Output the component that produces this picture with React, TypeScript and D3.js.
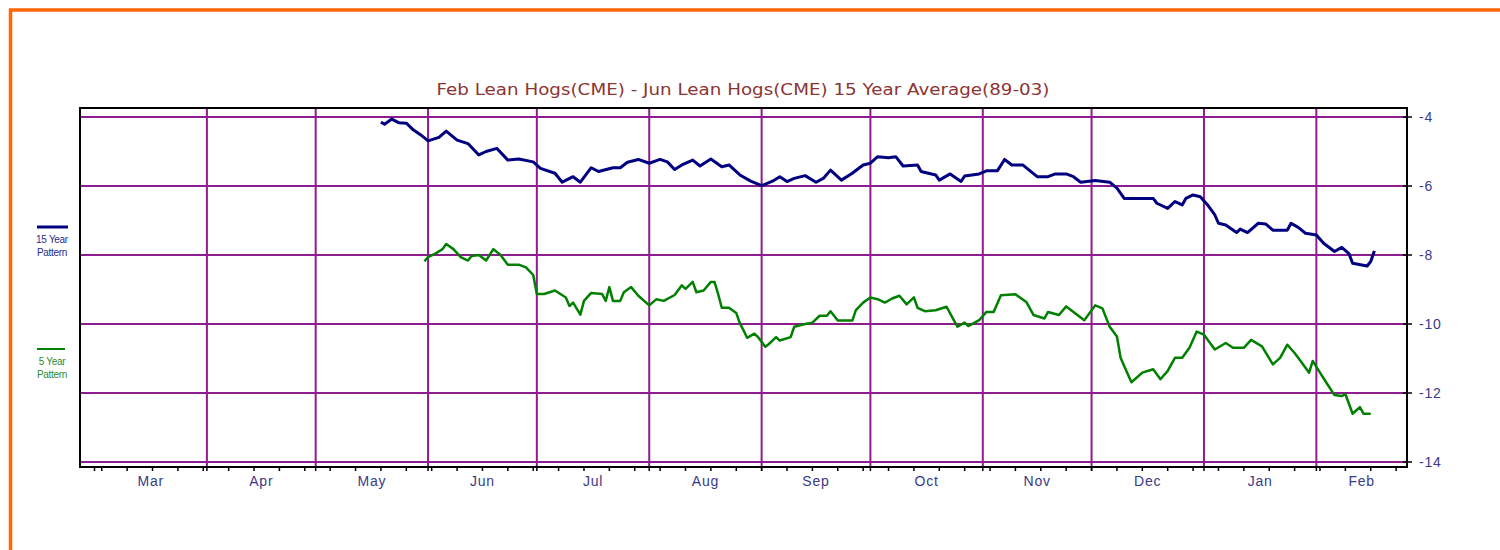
import React, { useRef, useEffect } from 'react';
import * as d3 from 'd3';

const title = 'Feb Lean Hogs(CME) - Jun Lean Hogs(CME) 15 Year Average(89-03)';

const monthLabels = ['Mar', 'Apr', 'May', 'Jun', 'Jul', 'Aug', 'Sep', 'Oct', 'Nov', 'Dec', 'Jan', 'Feb'];
const yTicks = [-4, -6, -8, -10, -12, -14];

// 15 year pattern (navy)
const pattern15: [string, number][] = [
  ['2003-05-19', -4.15], ['2003-05-20', -4.21], ['2003-05-22', -4.06], ['2003-05-24', -4.17],
  ['2003-05-26', -4.18], ['2003-05-28', -4.38], ['2003-05-30', -4.52], ['2003-06-01', -4.69],
  ['2003-06-04', -4.59], ['2003-06-06', -4.41], ['2003-06-09', -4.67], ['2003-06-12', -4.77],
  ['2003-06-15', -5.10], ['2003-06-17', -5.0], ['2003-06-20', -4.91], ['2003-06-23', -5.25],
  ['2003-06-26', -5.22], ['2003-06-30', -5.30], ['2003-07-02', -5.49], ['2003-07-06', -5.63],
  ['2003-07-08', -5.89], ['2003-07-11', -5.73], ['2003-07-13', -5.89], ['2003-07-16', -5.47],
  ['2003-07-18', -5.58], ['2003-07-22', -5.47], ['2003-07-24', -5.47], ['2003-07-26', -5.31],
  ['2003-07-29', -5.23], ['2003-08-01', -5.34], ['2003-08-04', -5.23], ['2003-08-06', -5.30],
  ['2003-08-08', -5.52], ['2003-08-10', -5.39], ['2003-08-13', -5.25], ['2003-08-15', -5.42],
  ['2003-08-18', -5.22], ['2003-08-21', -5.44], ['2003-08-23', -5.39], ['2003-08-26', -5.68],
  ['2003-08-29', -5.86], ['2003-09-01', -5.99], ['2003-09-04', -5.86], ['2003-09-06', -5.73],
  ['2003-09-08', -5.87], ['2003-09-10', -5.78], ['2003-09-13', -5.70], ['2003-09-16', -5.89],
  ['2003-09-18', -5.78], ['2003-09-20', -5.54], ['2003-09-23', -5.83], ['2003-09-26', -5.63],
  ['2003-09-29', -5.39], ['2003-10-01', -5.34], ['2003-10-03', -5.15], ['2003-10-06', -5.18],
  ['2003-10-08', -5.15], ['2003-10-10', -5.42], ['2003-10-14', -5.39], ['2003-10-15', -5.58],
  ['2003-10-19', -5.68], ['2003-10-20', -5.83], ['2003-10-23', -5.65], ['2003-10-26', -5.87],
  ['2003-10-27', -5.71], ['2003-10-31', -5.65], ['2003-11-02', -5.56], ['2003-11-05', -5.56],
  ['2003-11-07', -5.23], ['2003-11-09', -5.39], ['2003-11-12', -5.39], ['2003-11-16', -5.73],
  ['2003-11-19', -5.73], ['2003-11-21', -5.65], ['2003-11-24', -5.65], ['2003-11-26', -5.73],
  ['2003-11-28', -5.89], ['2003-12-02', -5.84], ['2003-12-06', -5.89], ['2003-12-08', -6.06],
  ['2003-12-10', -6.36], ['2003-12-13', -6.36], ['2003-12-18', -6.36], ['2003-12-19', -6.50],
  ['2003-12-22', -6.65], ['2003-12-24', -6.45], ['2003-12-26', -6.55], ['2003-12-27', -6.36],
  ['2003-12-29', -6.26], ['2003-12-31', -6.31], ['2004-01-02', -6.55], ['2004-01-04', -6.84],
  ['2004-01-05', -7.08], ['2004-01-07', -7.13], ['2004-01-10', -7.35], ['2004-01-11', -7.25],
  ['2004-01-13', -7.35], ['2004-01-16', -7.08], ['2004-01-18', -7.10], ['2004-01-20', -7.28],
  ['2004-01-24', -7.28], ['2004-01-25', -7.08], ['2004-01-27', -7.20], ['2004-01-29', -7.37],
  ['2004-02-01', -7.42], ['2004-02-03', -7.66], ['2004-02-06', -7.90], ['2004-02-08', -7.78],
  ['2004-02-10', -7.96], ['2004-02-11', -8.24], ['2004-02-15', -8.32], ['2004-02-16', -8.19],
  ['2004-02-17', -7.88],
];

// 5 year pattern (green)
const pattern5: [string, number][] = [
  ['2003-05-31', -8.18], ['2003-06-01', -8.06], ['2003-06-03', -7.96], ['2003-06-05', -7.83],
  ['2003-06-06', -7.68], ['2003-06-08', -7.83], ['2003-06-10', -8.06], ['2003-06-12', -8.16],
  ['2003-06-13', -8.03], ['2003-06-15', -8.0], ['2003-06-17', -8.16], ['2003-06-19', -7.83],
  ['2003-06-21', -8.0], ['2003-06-23', -8.28], ['2003-06-26', -8.28], ['2003-06-28', -8.36],
  ['2003-06-30', -8.58], ['2003-07-01', -9.13], ['2003-07-03', -9.13], ['2003-07-06', -9.03],
  ['2003-07-09', -9.23], ['2003-07-10', -9.48], ['2003-07-11', -9.38], ['2003-07-13', -9.73],
  ['2003-07-14', -9.33], ['2003-07-16', -9.10], ['2003-07-19', -9.13], ['2003-07-20', -9.33],
  ['2003-07-21', -8.93], ['2003-07-22', -9.33], ['2003-07-24', -9.33], ['2003-07-25', -9.08],
  ['2003-07-27', -8.93], ['2003-07-29', -9.18], ['2003-08-01', -9.46], ['2003-08-03', -9.28],
  ['2003-08-05', -9.33], ['2003-08-08', -9.16], ['2003-08-10', -8.88], ['2003-08-11', -8.98],
  ['2003-08-13', -8.78], ['2003-08-14', -9.08], ['2003-08-16', -9.03], ['2003-08-18', -8.78],
  ['2003-08-19', -8.78], ['2003-08-20', -9.13], ['2003-08-21', -9.53], ['2003-08-23', -9.53],
  ['2003-08-25', -9.68], ['2003-08-26', -9.98], ['2003-08-27', -10.18], ['2003-08-28', -10.40],
  ['2003-08-30', -10.28], ['2003-08-31', -10.38], ['2003-09-02', -10.66], ['2003-09-03', -10.58],
  ['2003-09-05', -10.38], ['2003-09-06', -10.48], ['2003-09-09', -10.38], ['2003-09-10', -10.08],
  ['2003-09-13', -10.0], ['2003-09-15', -9.96], ['2003-09-17', -9.76], ['2003-09-19', -9.76],
  ['2003-09-20', -9.63], ['2003-09-22', -9.90], ['2003-09-26', -9.90], ['2003-09-27', -9.60],
  ['2003-09-29', -9.38], ['2003-10-01', -9.23], ['2003-10-03', -9.28], ['2003-10-05', -9.38],
  ['2003-10-07', -9.26], ['2003-10-09', -9.18], ['2003-10-11', -9.43], ['2003-10-13', -9.23],
  ['2003-10-14', -9.53], ['2003-10-16', -9.63], ['2003-10-19', -9.60], ['2003-10-22', -9.50],
  ['2003-10-24', -9.89], ['2003-10-25', -10.08], ['2003-10-27', -9.96], ['2003-10-28', -10.06],
  ['2003-10-31', -9.89], ['2003-11-02', -9.65], ['2003-11-04', -9.65], ['2003-11-06', -9.17],
  ['2003-11-10', -9.14], ['2003-11-13', -9.36], ['2003-11-15', -9.74], ['2003-11-18', -9.84],
  ['2003-11-19', -9.65], ['2003-11-22', -9.74], ['2003-11-24', -9.49], ['2003-11-26', -9.65],
  ['2003-11-29', -9.89], ['2003-12-02', -9.46], ['2003-12-04', -9.55], ['2003-12-06', -10.08],
  ['2003-12-08', -10.36], ['2003-12-09', -10.98], ['2003-12-11', -11.46], ['2003-12-12', -11.69],
  ['2003-12-15', -11.41], ['2003-12-18', -11.31], ['2003-12-20', -11.60], ['2003-12-22', -11.36],
  ['2003-12-24', -10.98], ['2003-12-26', -10.98], ['2003-12-28', -10.69], ['2003-12-30', -10.22],
  ['2004-01-01', -10.31], ['2004-01-04', -10.74], ['2004-01-07', -10.55], ['2004-01-09', -10.69],
  ['2004-01-12', -10.69], ['2004-01-14', -10.46], ['2004-01-17', -10.65], ['2004-01-20', -11.17],
  ['2004-01-22', -10.98], ['2004-01-24', -10.60], ['2004-01-26', -10.84], ['2004-01-28', -11.12],
  ['2004-01-30', -11.41], ['2004-01-31', -11.07], ['2004-02-02', -11.41], ['2004-02-04', -11.74],
  ['2004-02-06', -12.06], ['2004-02-08', -12.09], ['2004-02-09', -12.03], ['2004-02-11', -12.60],
  ['2004-02-13', -12.41], ['2004-02-14', -12.60], ['2004-02-16', -12.60],
];

const FONT = '"Liberation Sans", Arial, sans-serif';
const GRID = '#8e1c8e';
const LABEL = '#3a3a8a';

const HogsChart = ({ width = 1500, height = 550 }) => {
  const svgRef = useRef<SVGSVGElement>(null);

  useEffect(() => {
    const svg = d3.select(svgRef.current);
    svg.selectAll('*').remove();

    const parse = d3.timeParse('%Y-%m-%d');
    const start = new Date(2003, 1, 25);
    const end = new Date(2004, 1, 26);

    const x = d3.scaleTime().domain([start, end]).range([80, 1407]);
    const y = d3.scaleLinear().domain([-4, -14]).range([117, 462]);

    const left = x(start), right = x(end);
    const top = y(-4) - 9, bottom = y(-14) + 5;

    svg.append('rect').attr('width', width).attr('height', height).attr('fill', '#fff');

    // orange frame
    svg.append('rect')
      .attr('x', 10.5).attr('y', 10)
      .attr('width', width + 20).attr('height', height + 20)
      .attr('fill', 'none').attr('stroke', '#ff6600').attr('stroke-width', 3.5);

    // title
    svg.append('text')
      .attr('x', 743).attr('y', 95)
      .attr('text-anchor', 'middle')
      .attr('font-family', '"DejaVu Sans", sans-serif').attr('font-size', 15)
      .attr('fill', '#8b3535')
      .attr('textLength', 613).attr('lengthAdjust', 'spacingAndGlyphs')
      .text(title);

    // gridlines
    const months = d3.timeMonth.range(d3.timeMonth.ceil(start), end);
    svg.append('g').selectAll('line.vgrid')
      .data(months.filter(m => x(m) - left > 40))
      .enter().append('line')
      .attr('x1', d => x(d)).attr('x2', d => x(d))
      .attr('y1', top).attr('y2', bottom)
      .attr('stroke', GRID).attr('stroke-width', 2);

    svg.append('g').selectAll('line.hgrid')
      .data(yTicks)
      .enter().append('line')
      .attr('x1', left).attr('x2', right)
      .attr('y1', d => y(d)).attr('y2', d => y(d))
      .attr('stroke', GRID).attr('stroke-width', 2);

    // frame
    svg.append('rect')
      .attr('x', left).attr('y', top)
      .attr('width', right - left).attr('height', bottom - top)
      .attr('fill', 'none').attr('stroke', '#000').attr('stroke-width', 2);

    // bottom ticks: weekly + month starts
    const weeks = d3.timeMonday.range(start, end);
    svg.append('g').selectAll('line')
      .data([...weeks, ...months])
      .enter().append('line')
      .attr('x1', d => x(d)).attr('x2', d => x(d))
      .attr('y1', bottom).attr('y2', bottom + 4)
      .attr('stroke', '#000').attr('stroke-width', 1.5);

    // month labels
    svg.append('g').selectAll('text')
      .data(months)
      .enter().append('text')
      .attr('x', d => {
        const a = Math.max(+x(d), left);
        const b = Math.min(+x(d3.timeMonth.offset(d, 1)), right);
        return (a + b) / 2;
      })
      .attr('y', 486)
      .attr('text-anchor', 'middle')
      .attr('font-family', FONT).attr('font-size', 14)
      .attr('letter-spacing', 0.8)
      .attr('fill', LABEL)
      .text((d, i) => monthLabels[i]);

    // right axis
    const ra = svg.append('g');
    ra.selectAll('line')
      .data(yTicks)
      .enter().append('line')
      .attr('x1', right - 4).attr('x2', right + 5)
      .attr('y1', d => y(d)).attr('y2', d => y(d))
      .attr('stroke', '#000').attr('stroke-width', 1.5);
    ra.selectAll('text')
      .data(yTicks)
      .enter().append('text')
      .attr('x', right + 12).attr('y', d => y(d) + 5)
      .attr('font-family', FONT).attr('font-size', 14)
      .attr('letter-spacing', 0.8)
      .attr('fill', LABEL)
      .text(d => String(d));

    // series
    const line = d3.line<[string, number]>()
      .x(d => x(parse(d[0]) as Date))
      .y(d => y(d[1]));

    svg.append('path').datum(pattern5)
      .attr('d', line).attr('fill', 'none')
      .attr('stroke', '#008000').attr('stroke-width', 2.5)
      .attr('stroke-linejoin', 'round');

    svg.append('path').datum(pattern15)
      .attr('d', line).attr('fill', 'none')
      .attr('stroke', '#000080').attr('stroke-width', 3)
      .attr('stroke-linejoin', 'round');

    // legend
    const legend = [
      { color: '#000080', text: '#2a2a88', lw: 3, ly: 227, x2: 68, labels: ['15 Year', 'Pattern'] },
      { color: '#008000', text: '#2e8b2e', lw: 2, ly: 349, x2: 65, labels: ['5 Year', 'Pattern'] },
    ];
    legend.forEach(l => {
      svg.append('line')
        .attr('x1', 37).attr('x2', l.x2)
        .attr('y1', l.ly).attr('y2', l.ly)
        .attr('stroke', l.color).attr('stroke-width', l.lw);
      l.labels.forEach((t, i) => {
        svg.append('text')
          .attr('x', 52).attr('y', l.ly + 16 + i * 13)
          .attr('text-anchor', 'middle')
          .attr('font-family', FONT).attr('font-size', 10)
          .attr('letter-spacing', -0.3)
          .attr('fill', l.text)
          .text(t);
      });
    });
  }, [width, height]);

  return (
    <svg ref={svgRef} width={width} height={height}
      style={{ position: 'absolute', left: 0, top: 0, display: 'block' }} />
  );
};

export default function App() {
  return <HogsChart />;
}
